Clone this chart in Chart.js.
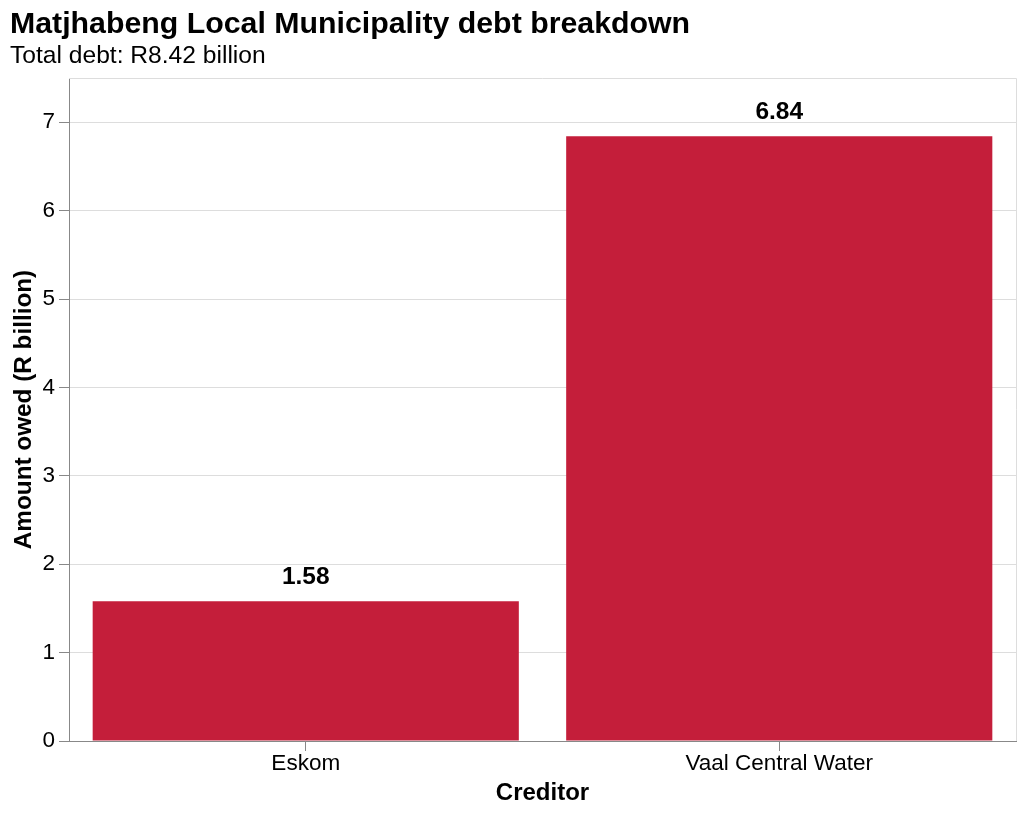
<!DOCTYPE html>
<html>
<head>
<meta charset="utf-8">
<script src="https://cdn.jsdelivr.net/npm/chart.js@4.4.1/dist/chart.umd.min.js"></script>
<style>
  html, body { margin: 0; padding: 0; background: #fff; }
  #wrap { width: 1024px; height: 816px; position: relative; }
</style>
</head>
<body>
<div id="wrap"><canvas id="c"></canvas></div>
<script>
const titleText = "Matjhabeng Local Municipality debt breakdown";
const subtitleText = "Total debt: R8.42 billion";
const categories = ["Eskom", "Vaal Central Water"];
const amounts = [1.58, 6.84];
const yTitle = "Amount owed (R billion)";
const xTitle = "Creditor";

const FONT = "'Liberation Sans', Arial, Helvetica, sans-serif";
const BAR = "#c41e3a";

const decor = {
  id: "decor",
  beforeDraw(chart) {
    const ctx = chart.ctx;
    ctx.save();
    ctx.fillStyle = "#000";
    ctx.textAlign = "left";
    ctx.textBaseline = "alphabetic";
    ctx.font = "bold 30.3px " + FONT;
    ctx.fillText(titleText, 10, 33);
    ctx.font = "24.6px " + FONT;
    ctx.fillText(subtitleText, 10, 63);
    ctx.restore();
  },
  afterDatasetsDraw(chart) {
    const ctx = chart.ctx;
    const a = chart.chartArea;
    ctx.save();
    ctx.strokeStyle = "#dddddd";
    ctx.lineWidth = 1;
    ctx.beginPath();
    ctx.moveTo(a.left, a.top + 0.5);
    ctx.lineTo(a.right + 0.5, a.top + 0.5);
    ctx.lineTo(a.right + 0.5, a.bottom);
    ctx.stroke();
    const meta = chart.getDatasetMeta(0);
    ctx.fillStyle = "#000";
    ctx.font = "bold 24.5px " + FONT;
    ctx.textAlign = "center";
    ctx.textBaseline = "alphabetic";
    meta.data.forEach((bar, i) => {
      ctx.fillText(amounts[i].toFixed(2), bar.x, bar.y - 17);
    });
    ctx.restore();
  }
};

new Chart(document.getElementById("c"), {
  type: "bar",
  data: {
    labels: categories,
    datasets: [{
      data: amounts,
      backgroundColor: BAR,
      borderWidth: 0,
      barPercentage: 0.9,
      categoryPercentage: 1.0
    }]
  },
  options: {
    responsive: true,
    maintainAspectRatio: false,
    animation: false,
    devicePixelRatio: 1,
    layout: { padding: { top: 78, right: 8, left: 0, bottom: 0 } },
    plugins: {
      legend: { display: false },
      title: { display: false },
      tooltip: { enabled: false }
    },
    scales: {
      x: {
        type: "category",
        offset: true,
        afterFit(s) { s.height = 75; },
        grid: {
          display: true,
          drawOnChartArea: false,
          drawTicks: true,
          offset: false,
          tickLength: 10,
          tickColor: "#888888"
        },
        border: { display: true, color: "#888888", width: 1 },
        ticks: {
          color: "#000",
          font: { family: FONT, size: 22.5 },
          padding: -1,
          maxRotation: 0
        },
        title: {
          display: true,
          text: xTitle,
          color: "#000",
          font: { family: FONT, size: 24, weight: "bold" },
          padding: { top: 0, bottom: 8 }
        }
      },
      y: {
        type: "linear",
        min: 0,
        max: 7.5,
        afterFit(s) { s.width = 69; },
        afterBuildTicks(s) { s.ticks = s.ticks.filter(t => Number.isInteger(t.value)); },
        grid: {
          color: "#dddddd",
          tickColor: "#888888",
          tickLength: 10,
          drawTicks: true
        },
        border: { display: true, color: "#888888", width: 1 },
        ticks: {
          stepSize: 1,
          color: "#000",
          font: { family: FONT, size: 22.5 },
          padding: 4
        },
        title: {
          display: true,
          text: yTitle,
          color: "#000",
          font: { family: FONT, size: 24.3, weight: "bold" },
          padding: { top: 10, bottom: 0 }
        }
      }
    }
  },
  plugins: [decor]
});
</script>
</body>
</html>
